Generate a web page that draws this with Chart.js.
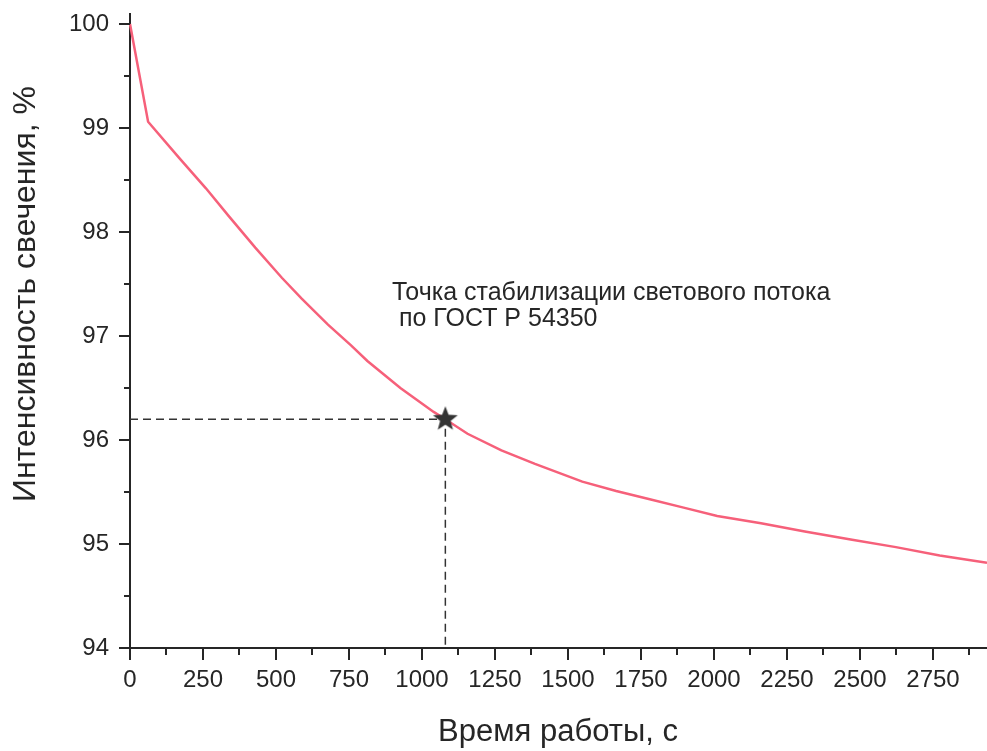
<!DOCTYPE html>
<html>
<head>
<meta charset="utf-8">
<script src="https://cdn.jsdelivr.net/npm/chart.js@4.4.1/dist/chart.umd.min.js"></script>
<style>
  html, body { margin: 0; padding: 0; background: #fff; overflow: hidden; }
  #wrap { width: 987px; height: 751px; position: relative; }
</style>
</head>
<body>
<div id="wrap"><canvas id="myChart"></canvas></div>
<script>
// time (s) and glow intensity (%)
const timeSec = [0, 62, 169, 260, 339, 429, 520, 588, 678, 757, 813, 926, 1040, 1080, 1156, 1272, 1387, 1549, 1665, 1780, 1896, 2011, 2161, 2311, 2473, 2623, 2773, 2935];
const intensity = [100, 99.06, 98.71, 98.42, 98.15, 97.85, 97.56, 97.36, 97.11, 96.91, 96.76, 96.50, 96.27, 96.20, 96.06, 95.90, 95.77, 95.60, 95.51, 95.43, 95.35, 95.27, 95.20, 95.12, 95.04, 94.97, 94.89, 94.82];

// stabilization point (GOST R 54350)
const stabTime = 1080;
const stabValue = 96.2;

const xRange = [0, 2935];
const yRange = [94, 100.1];
const xMajor = 250;
const yMajor = 1;

const noteLines = ["Точка стабилизации светового потока", " по ГОСТ Р 54350"];
const xTitle = "Время работы, с";
const yTitle = "Интенсивность свечения, %";

const font = "'Liberation Sans', Arial, sans-serif";
const ink = "#262626";

// filled five-point star for the marker
const star = document.createElement("canvas");
star.width = 28;
star.height = 28;
(function () {
  const c = star.getContext("2d");
  c.beginPath();
  for (let i = 0; i < 10; i++) {
    const r = i % 2 === 0 ? 13 : 5.5;
    const a = -Math.PI / 2 + (i * Math.PI) / 5;
    c.lineTo(14 + r * Math.cos(a), 14 + r * Math.sin(a));
  }
  c.closePath();
  c.fillStyle = "#333";
  c.fill();
})();

// no extra room for overflowing tick labels
function noPad(s) {
  s.paddingTop = 0;
  s.paddingBottom = 0;
  s.paddingLeft = 0;
  s.paddingRight = 0;
}

const extras = {
  id: "extras",
  afterDraw(chart) {
    const ctx = chart.ctx;
    const xs = chart.scales.x;
    const ys = chart.scales.y;
    const area = chart.chartArea;
    ctx.save();
    ctx.strokeStyle = ink;
    ctx.lineWidth = 2;
    xs.ticks.forEach((t) => {
      const px = Math.round(xs.getPixelForValue(t.value));
      const len = t.value % xMajor === 0 ? 12 : 7;
      ctx.beginPath();
      ctx.moveTo(px, area.bottom);
      ctx.lineTo(px, area.bottom + len);
      ctx.stroke();
    });
    ys.ticks.forEach((t) => {
      const py = Math.round(ys.getPixelForValue(t.value));
      const len = t.value % yMajor === 0 ? 11 : 6;
      ctx.beginPath();
      ctx.moveTo(area.left, py);
      ctx.lineTo(area.left - len, py);
      ctx.stroke();
    });

    ctx.fillStyle = ink;
    ctx.font = "25px " + font;
    ctx.textAlign = "left";
    ctx.textBaseline = "alphabetic";
    ctx.fillText(noteLines[0], 392, 300);
    ctx.fillText(noteLines[1], 392, 326);

    ctx.font = "31px " + font;
    ctx.textAlign = "center";
    ctx.textBaseline = "middle";
    ctx.fillText(xTitle, 558, 732);

    ctx.font = "32px " + font;
    ctx.translate(26, 294);
    ctx.rotate(-Math.PI / 2);
    ctx.fillText(yTitle, 0, 0);
    ctx.restore();
  },
};

const curve = timeSec.map((t, i) => ({ x: t, y: intensity[i] }));
const guide = [
  { x: xRange[0], y: stabValue },
  { x: stabTime, y: stabValue },
  { x: stabTime, y: yRange[0] },
];

new Chart("myChart", {
  type: "line",
  data: {
    datasets: [
      {
        data: [{ x: stabTime, y: stabValue }],
        pointStyle: star,
        pointRadius: 13,
        showLine: false,
      },
      {
        data: curve,
        borderColor: "rgb(246, 96, 122)",
        borderWidth: 2.5,
        pointRadius: 0,
        tension: 0,
        clip: false,
      },
      {
        data: guide,
        borderColor: "#333",
        borderWidth: 1.5,
        borderDash: [8, 5],
        pointRadius: 0,
        tension: 0,
      },
    ],
  },
  options: {
    responsive: true,
    maintainAspectRatio: false,
    animation: false,
    layout: { autoPadding: false, padding: { top: 13.6, right: 0, left: 0, bottom: 0 } },
    plugins: {
      legend: { display: false },
      tooltip: { enabled: false },
    },
    scales: {
      x: {
        type: "linear",
        min: xRange[0],
        max: xRange[1],
        grid: { display: false, drawTicks: false },
        border: { display: true, color: ink, width: 2 },
        afterFit: (s) => { s.height = 103; noPad(s); },
        ticks: {
          stepSize: xMajor / 2,
          includeBounds: false,
          autoSkip: false,
          maxRotation: 0,
          padding: 18,
          color: ink,
          font: { size: 24, family: font },
          callback: (v) => (v % xMajor === 0 ? String(v) : ""),
        },
      },
      y: {
        min: yRange[0],
        max: yRange[1],
        grid: { display: false, drawTicks: false },
        border: { display: true, color: ink, width: 2 },
        afterFit: (s) => { s.width = 130; noPad(s); },
        ticks: {
          stepSize: yMajor / 2,
          includeBounds: false,
          autoSkip: false,
          padding: 21,
          color: ink,
          font: { size: 24, family: font },
          callback: (v) => (v % yMajor === 0 ? String(v) : ""),
        },
      },
    },
  },
  plugins: [extras],
});
</script>
</body>
</html>
